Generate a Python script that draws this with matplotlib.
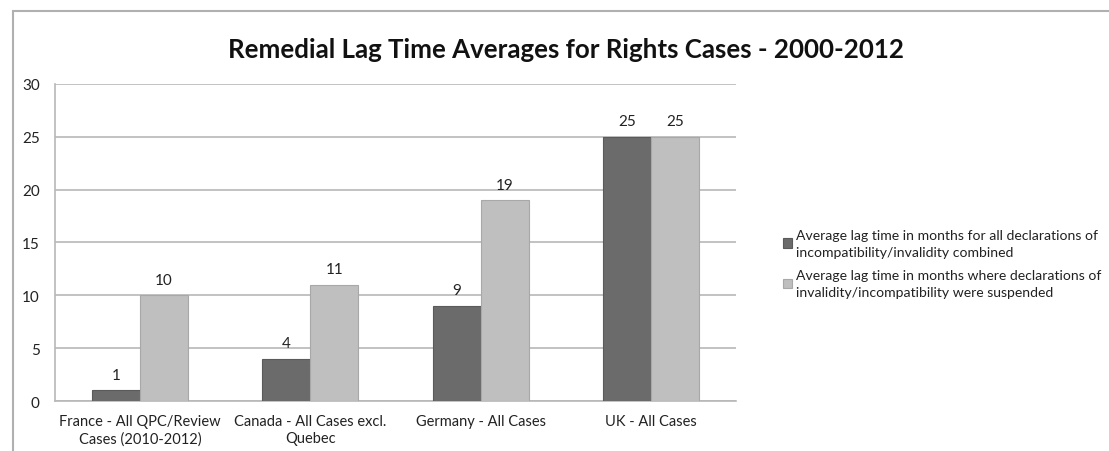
import numpy as np
import matplotlib.pyplot as plt
from matplotlib.patches import Rectangle

# === DATA ===
categories = [
    "France - All QPC/Review\nCases (2010-2012)",
    "Canada - All Cases excl.\nQuebec",
    "Germany - All Cases",
    "UK - All Cases",
]
lag_all = [1, 4, 9, 25]
lag_suspended = [10, 11, 19, 25]
series_names = [
    "Average lag time in months for all declarations of\nincompatibility/invalidity combined",
    "Average lag time in months where declarations of\ninvalidity/incompatibility were suspended",
]
yticks = [0, 5, 10, 15, 20, 25, 30]

plt.rcParams["font.family"] = ["Lato", "DejaVu Sans"]

fig = plt.figure(figsize=(11.09, 4.52), dpi=100)
ax = fig.add_axes([0.0496, 0.1106, 0.6141, 0.7014])

# outer chart frame
fig.patches.append(Rectangle((13 / 1109, -0.1), 1.2, 1 - 12 / 452 + 0.1,
                             transform=fig.transFigure, fill=False,
                             edgecolor="#b0b0b0", linewidth=1.5))

x = np.arange(len(categories))
w = 0.282
b1 = ax.bar(x - w / 2, lag_all, w, color="#6b6b6b", edgecolor="#5a5a5a",
            linewidth=0.8, label=series_names[0], zorder=3)
b2 = ax.bar(x + w / 2, lag_suspended, w, color="#bfbfbf", edgecolor="#a8a8a8",
            linewidth=0.8, label=series_names[1], zorder=3)

for bars in (b1, b2):
    for r in bars:
        ax.text(r.get_x() + r.get_width() / 2, r.get_height() + 0.8,
                f"{r.get_height():.0f}", ha="center", va="bottom",
                fontsize=11, color="#222222")

ax.set_xlim(-0.5, len(categories) - 0.5)
ax.set_ylim(0, 30)
ax.set_yticks(yticks)
ax.set_xticks(x)
ax.set_xticklabels(categories, fontsize=10.5, color="#222222", linespacing=1.35)
ax.tick_params(axis="y", labelsize=11, colors="#222222", length=0, pad=11)
ax.tick_params(axis="x", length=0, pad=9)
ax.yaxis.grid(True, color="#b8b8b8", linewidth=1.2, zorder=0)
for s in ["top", "right"]:
    ax.spines[s].set_visible(False)
ax.spines["left"].set_color("#b8b8b8")
ax.spines["bottom"].set_color("#b8b8b8")
ax.spines["left"].set_linewidth(1.2)
ax.spines["bottom"].set_linewidth(1.2)

fig.text(566 / 1109, 1 - 50 / 452, "Remedial Lag Time Averages for Rights Cases - 2000-2012",
         ha="center", va="center", fontsize=18.6, fontweight="bold", color="#111111")

leg = fig.legend(handles=[b1, b2], loc="upper left",
                 bbox_to_anchor=(777 / 1109, 1 - 224 / 452), frameon=False,
                 fontsize=10.1, handlelength=0.7, handleheight=0.7, handletextpad=0.25,
                 labelspacing=0.8, borderaxespad=0)
for t in leg.get_texts():
    t.set_linespacing(1.5)
    t.set_color("#222222")

plt.savefig("out.png", dpi=100)
plt.close()
